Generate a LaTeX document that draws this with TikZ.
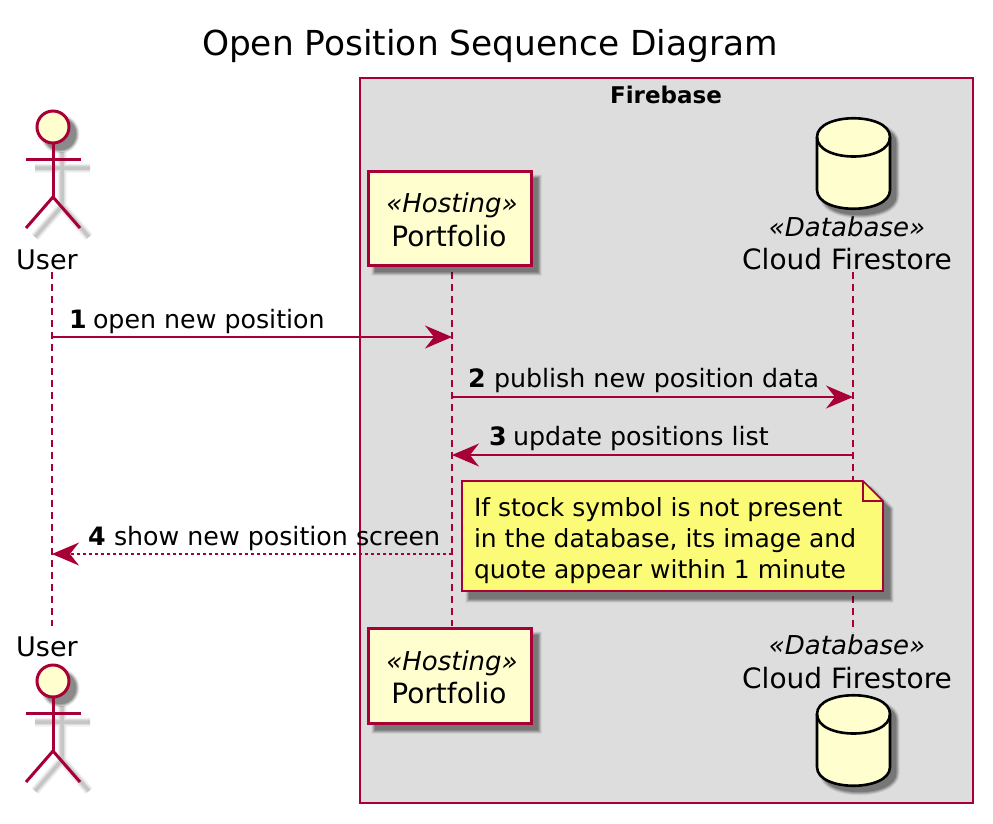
\documentclass[tikz,border=0pt]{standalone}
\usepackage{fontspec}
\setmainfont{DejaVu Sans}
\usetikzlibrary{arrows.meta}
\definecolor{plum}{HTML}{A80036}
\definecolor{cream}{HTML}{FEFECE}
\definecolor{notey}{HTML}{FBFB77}
\definecolor{boxgrey}{HTML}{DDDDDD}
\tikzset{
  x=1pt,y=-1pt,
  every node/.style={inner sep=0pt,outer sep=0pt,text=black},
  lifeline/.style={draw=plum,line width=1.2pt,dash pattern=on 7pt off 5pt},
  msg/.style={draw=plum,line width=1.5pt,-{Stealth[length=27pt,width=23pt,inset=9pt,fill=plum]}},
  txt/.style={anchor=base west,font=\fontsize{25.3}{25}\selectfont},
  ctr/.style={anchor=base,font=\fontsize{28}{28}\selectfont},
  actorname/.style={anchor=base,font=\fontsize{27}{27}\selectfont},
  ster/.style={anchor=base,font=\fontsize{26}{26}\selectfont\itshape},
  notetxt/.style={anchor=base west,font=\fontsize{25}{25}\selectfont},
  actorline/.style={draw=plum,line width=3pt},
  partbox/.style={draw=plum,fill=cream,line width=3pt},
  dbline/.style={draw=black,fill=cream,line width=2.6pt},
}
\newcommand{\softshadow}[4]{%
  \foreach \shw/\shop in {7/.08,5/.12,3/.16,0.8/.20}{%
    \begin{scope}[transparency group,opacity=\shop,xshift=#1pt,yshift=-#2pt]
      \path[#4,fill=black,draw=black,line width=\shw pt] #3;
    \end{scope}}}
\newcommand{\softstroke}[4]{%
  \foreach \shw/\shop in {9/.06,6/.08,3.5/.10}{%
    \begin{scope}[transparency group,opacity=\shop,xshift=#1pt,yshift=-#2pt]
      \path[#4,draw=black,line width=\shw pt] #3;
    \end{scope}}}
\newcommand{\actorfig}[2]{%
  \begin{scope}[yshift=-#1pt]
    \softshadow{7}{7}{(53,127) circle[radius=16]}{}
    \softstroke{9}{9}{(53,143)--(53,197) (26,159)--(81,159) (26,228)--(53,197)--(80,228)}{}
    \draw[actorline] (53,143)--(53,197);
    \draw[actorline] (26,159)--(81,159);
    \draw[actorline] (26,228)--(53,197)--(80,228);
    \draw[actorline,fill=cream] (53,127) circle[radius=16];
  \end{scope}}
\newcommand{\dbfig}[1]{%
  \begin{scope}[yshift=-#1pt]
    \softshadow{6}{6}{(817,137) .. controls (817,112) and (890,112) .. (890,137) -- (890,190) .. controls (890,215) and (817,215) .. (817,190) -- cycle}{}
    \path[dbline] (817,137) .. controls (817,112) and (890,112) .. (890,137) -- (890,190) .. controls (890,215) and (817,215) .. (817,190) -- cycle;
    \draw[draw=black,line width=2.6pt] (817,137) .. controls (817,163) and (890,163) .. (890,137);
  \end{scope}}
\begin{document}
\begin{tikzpicture}
\useasboundingbox (0,0) rectangle (993,823);
\node[anchor=base,font=\fontsize{34.4}{34}\selectfont] (title) at (490,55) {Open Position Sequence Diagram};
\draw[draw=plum,fill=boxgrey,line width=1.6pt] (360,78) rectangle (973,803);
\node[anchor=base,font=\fontsize{23}{23}\selectfont\bfseries] (firebase) at (666,103) {Firebase};
\coordinate (ut) at (52,272); \coordinate (ub) at (52,626);
\coordinate (pt) at (452,272); \coordinate (pb) at (452,626);
\coordinate (ft) at (853,272); \coordinate (fb) at (853,632);
\draw[lifeline] (ut)--(ub);
\draw[lifeline] (pt)--(pb);
\draw[lifeline] (ft)--(fb);
\actorfig{0}{a}
\actorfig{554}{b}
\node[actorname] (usertop) at (47,269) {User};
\node[actorname] (userbot) at (47,656) {User};
\softshadow{7}{7}{(368,171) rectangle (531,265)}{}
\softshadow{7}{7}{(368,628) rectangle (531,723)}{}
\draw[partbox] (368,171) rectangle (531,265);
\draw[partbox] (368,628) rectangle (531,723);
\node[ster] (hostt) at (452,212) {«Hosting»};
\node[ctr] (portt) at (449,246) {Portfolio};
\node[ster] (hostb) at (452,670) {«Hosting»};
\node[ctr] (portb) at (449,703) {Portfolio};
\dbfig{0}
\dbfig{577}
\node[ster] (dbt) at (847,236) {«Database»};
\node[ctr] (cft) at (847,269) {Cloud Firestore};
\node[ster] (dbb) at (847,654) {«Database»};
\node[ctr] (cfb) at (847,688) {Cloud Firestore};
\coordinate (m1a) at (52,337); \coordinate (m1b) at (452,337);
\coordinate (m2a) at (452,397); \coordinate (m2b) at (853,397);
\coordinate (m3a) at (853,455); \coordinate (m3b) at (452,455);
\coordinate (m4a) at (452,554); \coordinate (m4b) at (52,554);
\draw[msg] (m1a)--(m1b);
\draw[msg] (m2a)--(m2b);
\draw[msg] (m3a)--(m3b);
\draw[msg,dash pattern=on 3pt off 3pt] (m4a)--(m4b);
\node[txt] (n1) at (69,328) {\textbf{1}};
\node[txt] (l1) at (93,328) {open new position};
\node[txt] (n2) at (468,387) {\textbf{2}};
\node[txt] (l2) at (494,387) {publish new position data};
\node[txt] (n3) at (489,445) {\textbf{3}};
\node[txt] (l3) at (513,445) {update positions list};
\node[txt] (n4) at (88,545) {\textbf{4}};
\node[txt] (l4) at (114,545) {show new position screen};
\softshadow{7}{8}{(462,481) -- (863,481) -- (883,501) -- (883,591) -- (462,591) -- cycle}{}
\draw[draw=plum,fill=notey,line width=1.6pt] (462,481) -- (863,481) -- (883,501) -- (883,591) -- (462,591) -- cycle;
\draw[draw=plum,line width=1.6pt] (863,481) -- (863,501) -- (883,501);
\node[notetxt] (nt1) at (474,516) {If stock symbol is not present};
\node[notetxt] (nt2) at (474,547) {in the database, its image and};
\node[notetxt] (nt3) at (474,578) {quote appear within 1 minute};
\end{tikzpicture}
\end{document}
